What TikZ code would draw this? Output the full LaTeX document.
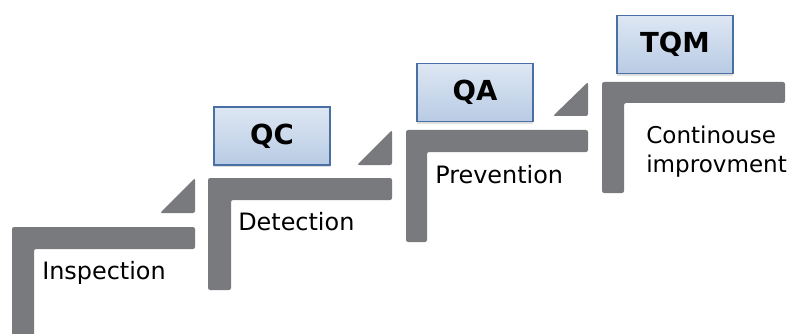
\documentclass[tikz,border=0pt]{standalone}
\usepackage{fontspec}
\setmainfont{DejaVu Sans}
\usepackage{xcolor}
\usepackage{tikz}
\usetikzlibrary{shapes,arrows,shadows}
\definecolor{sgray}{HTML}{797A7E}
\definecolor{bborder}{HTML}{4A6FA2}
\definecolor{btop}{HTML}{DEE7F3}
\definecolor{bbot}{HTML}{B8CBE4}
\tikzstyle{stair} = [fill=sgray, rounded corners=1.5pt]
\tikzstyle{riser} = [stair]
\tikzstyle{levelbox} = [rectangle, draw=bborder, line width=0.8pt, top color=btop, bottom color=bbot, minimum width=2.9cm, minimum height=1.45cm, font=\fontsize{19.6}{22}\selectfont\bfseries, drop shadow={shadow xshift=0pt, shadow yshift=-1.5pt, opacity=0.25}]
\tikzstyle{caption} = [anchor=base west, inner sep=0pt, font=\fontsize{17}{20.6}\selectfont]
\tikzstyle{smallcaption} = [caption, font=\fontsize{16.4}{20.6}\selectfont]

\begin{document}
\begin{tikzpicture}[x=0.025cm, y=-0.025cm]
    \useasboundingbox (0, 0) rectangle (793, 334);

    % stairs
    \fill[stair] (12, 340) -- (12, 227) -- (195, 227) -- (195, 249) -- (34, 249) -- (34, 340) -- cycle;
    \fill[stair] (208, 290) -- (208, 178) -- (392, 178) -- (392, 200) -- (231, 200) -- (231, 290) -- cycle;
    \fill[stair] (406, 242) -- (406, 130) -- (588, 130) -- (588, 152) -- (427, 152) -- (427, 242) -- cycle;
    \fill[stair] (602, 193) -- (602, 82) -- (785, 82) -- (785, 103) -- (624, 103) -- (624, 193) -- cycle;

    % risers
    \fill[riser] (160, 213) -- (195, 213) -- (195, 178) -- cycle;
    \fill[riser] (357, 165) -- (392, 165) -- (392, 130) -- cycle;
    \fill[riser] (553, 116) -- (588, 116) -- (588, 82) -- cycle;

    % levels
    \node[levelbox] at (272, 136) (qc) {QC};
    \node[levelbox] at (475, 92.5) (qa) {QA};
    \node[levelbox] at (675, 44.5) (tqm) {TQM};

    % captions
    \node[caption] at (42, 279) (insp) {Inspection};
    \node[caption] at (238, 230) (detect) {Detection};
    \node[caption] at (435, 183) (prev) {Prevention};
    \node[smallcaption] at (646, 144) (cont) {Continouse};
    \node[smallcaption] at (646, 173) (impr) {improvment};

\end{tikzpicture}
\end{document}
